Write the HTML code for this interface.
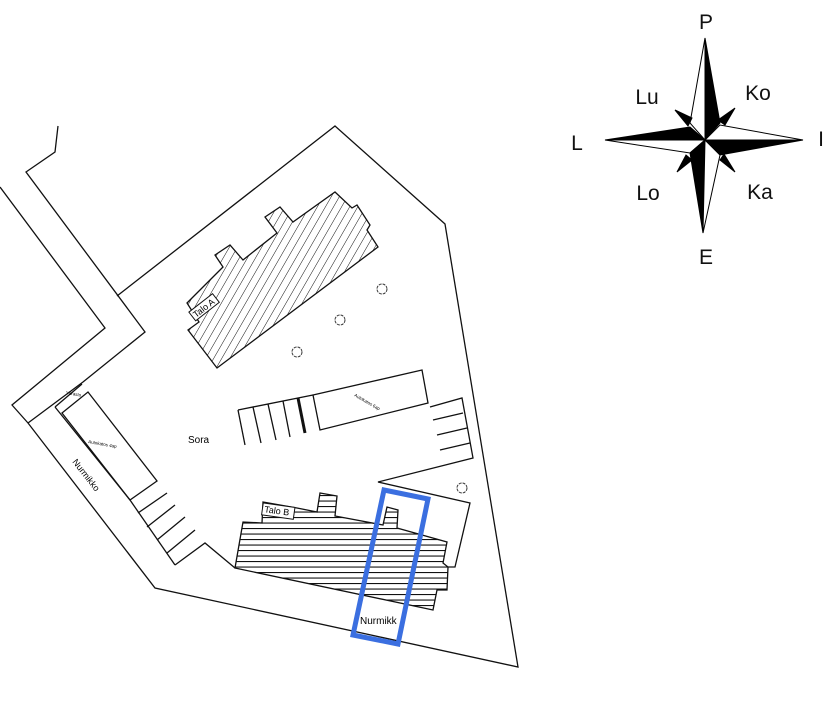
<!DOCTYPE html>
<html><head><meta charset="utf-8"><style>
body{margin:0;background:#fff;}
svg{display:block;font-family:"Liberation Sans",sans-serif;}
</style></head><body>
<svg width="828" height="702" viewBox="0 0 828 702" xmlns="http://www.w3.org/2000/svg">
<defs>
<pattern id="hA" patternUnits="userSpaceOnUse" width="7" height="7" patternTransform="rotate(30)">
<line x1="0" y1="0" x2="0" y2="7" stroke="#111" stroke-width="1"/></pattern>
<pattern id="hB" patternUnits="userSpaceOnUse" width="6" height="5.5">
<line x1="0" y1="0.5" x2="6" y2="0.5" stroke="#111" stroke-width="1.2"/></pattern>
</defs>
<g fill="none" stroke="#111" stroke-width="1.3">
<!-- road -->
<polyline points="0,187 105,328 12,405 28,423 155,588 518,667 445,224 335,126 117,296"/>
<polyline points="58,126 55,152 26,172 145,332 83,382 28,423"/>
<!-- left strip -->
<polyline points="55,407 130,500"/>
<polyline points="55,407 82,384"/>
<polygon points="62,413 88,392 157,481 130,500"/>
<line x1="130" y1="500" x2="175" y2="565"/>
<line x1="138" y1="513" x2="167" y2="493"/><line x1="147" y1="527" x2="175" y2="505"/>
<line x1="157" y1="540" x2="185" y2="517"/><line x1="167" y1="553" x2="195" y2="530"/>
<polyline points="175,565 205,543 235,568"/>
<!-- upper parking -->
<line x1="238" y1="410" x2="313" y2="395"/>
<line x1="238" y1="410" x2="245" y2="445"/><line x1="253" y1="407" x2="261" y2="443"/>
<line x1="268" y1="404" x2="276" y2="440"/><line x1="283" y1="401" x2="290" y2="437"/>
<line x1="298" y1="398" x2="305" y2="433" stroke-width="3"/>
<polygon points="313,395 422,370 428,403 320,430"/>
<polyline points="430,407 462,398 473,458 378,482 470,503 455,567 448,567"/>
<line x1="433" y1="420" x2="463" y2="413"/><line x1="437" y1="435" x2="467" y2="428"/><line x1="440" y1="450" x2="470" y2="443"/>
</g>
<!-- building A -->
<polygon points="188,330 217,368 378,247 367,230 370,225 357,205 352,208 335,192 293,222 280,207 265,217 277,233 243,260 230,245 215,255 223,267 187,303 199,322" fill="url(#hA)" stroke="#111" stroke-width="1.3"/>
<g transform="translate(196,318) rotate(-38)"><rect x="-2" y="-9" width="30" height="11" fill="#fff" stroke="#111" stroke-width="1"/><text x="0" y="0" font-size="9">Talo A</text></g>
<!-- building B -->
<polygon points="235,568 243,522 262,523 263,502 297,508 317,512 320,493 337,496 335,516 383,525 387,507 398,510 397,528 447,542 443,563 448,567 447,590 437,590 433,610" fill="url(#hB)" stroke="#111" stroke-width="1.3"/>
<g transform="translate(263,512) rotate(8)"><rect x="-1" y="-9" width="32" height="12" fill="#fff" stroke="#111" stroke-width="1"/><text x="1" y="0" font-size="9">Talo B</text></g>
<!-- trees -->
<g fill="none" stroke="#333" stroke-width="1"><circle cx="382" cy="289" r="5" stroke-dasharray="3 1"/><circle cx="340" cy="320" r="5" stroke-dasharray="3 1"/><circle cx="297" cy="352" r="5" stroke-dasharray="3 1"/><circle cx="462" cy="488" r="5" stroke-dasharray="3 1"/></g>
<!-- labels -->
<text x="188" y="443" font-size="10">Sora</text>
<text x="0" y="0" font-size="9" transform="translate(72,462) rotate(52)">Nurmikko</text>
<text x="0" y="0" font-size="4.5" transform="translate(88,443) rotate(10)">Autokatos 4ap</text>
<text x="0" y="0" font-size="4.5" transform="translate(354,396) rotate(30)">Autokatos 6ap</text>
<text x="0" y="0" font-size="4.5" transform="translate(66,394) rotate(10)">Varasto</text>
<text x="360" y="624" font-size="10">Nurmikk</text>
<!-- blue rect -->
<polygon points="384,490 428,499 398,644 353,635" fill="none" stroke="#3b6fe0" stroke-width="5"/>
<!-- compass -->
<g stroke="#000" stroke-width="1" stroke-linejoin="miter">
<polygon points="705,38 720,123 705,140" fill="#000"/><polygon points="705,38 690,123 705,140" fill="#fff"/>
<polygon points="605,140 690,127 705,140" fill="#000"/><polygon points="605,140 690,153 705,140" fill="#fff"/>
<polygon points="703,233 690,153 705,140" fill="#000"/><polygon points="703,233 720,155 705,140" fill="#fff"/>
<polygon points="803,140 720,155 705,140" fill="#000"/><polygon points="803,140 720,125 705,140" fill="#fff"/>
<polygon points="735,108 725,125 718,120" fill="#000"/>
<polygon points="675,110 692,118 688,126" fill="#000"/>
<polygon points="677,172 686,155 692,160" fill="#000"/>
<polygon points="735,172 720,160 724,154" fill="#000"/>
</g>
<g font-size="21" fill="#111" text-anchor="middle">
<text x="706" y="29">P</text><text x="647" y="104">Lu</text><text x="758" y="100">Ko</text>
<text x="577" y="150">L</text><text x="821" y="146">I</text><text x="648" y="200">Lo</text>
<text x="760" y="199">Ka</text><text x="706" y="264">E</text>
</g>
</svg>
</body></html>
